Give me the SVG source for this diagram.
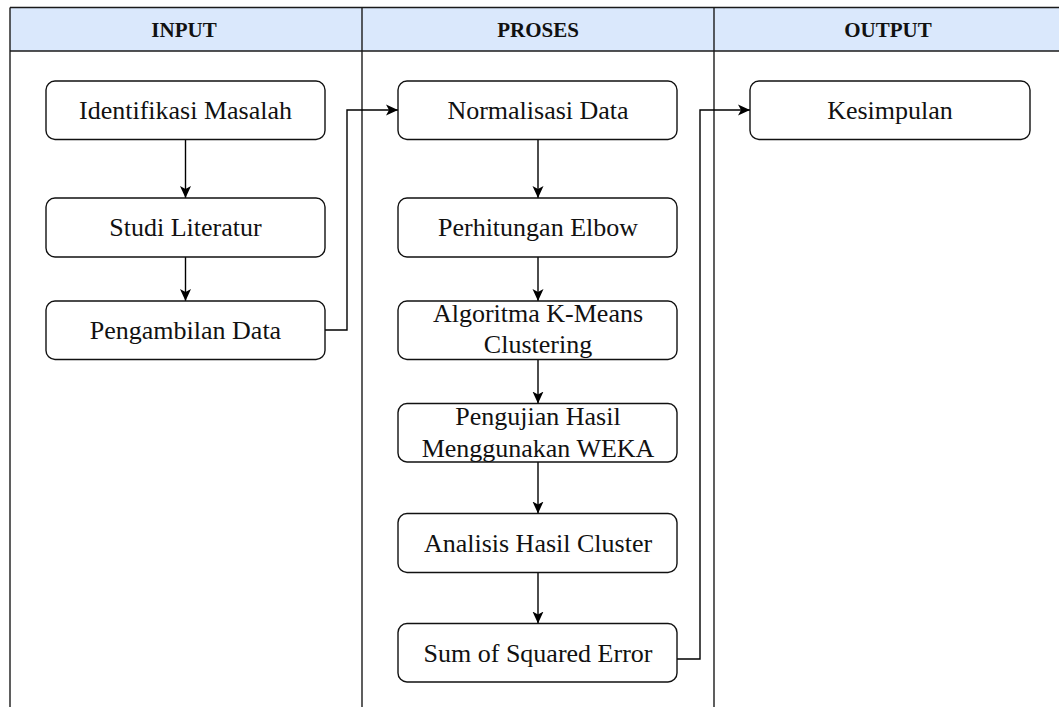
<svg xmlns="http://www.w3.org/2000/svg" width="1059" height="707" viewBox="0 0 1059 707">
  <style>
    .grid { stroke: #1a1a1a; stroke-width: 1.4; fill: none; }
    .hdr { fill: #dae8fc; stroke: none; }
    .htxt { font-family: 'Liberation Serif', serif; font-size: 21px; font-weight: bold; fill: #111; text-anchor: middle; }
    .box { fill: #ffffff; stroke: #111; stroke-width: 1.4; }
    .txt { font-family: 'Liberation Serif', serif; font-size: 26px; fill: #111; text-anchor: middle; }
    .conn { fill: none; stroke: #000; stroke-width: 1.4; }
  </style>
  <defs>
    <marker id="arrow" viewBox="0 0 12 12" refX="12" refY="6" markerWidth="12" markerHeight="12" markerUnits="userSpaceOnUse" orient="auto">
      <path d="M0,0.5 L12,6 L0,11.5 L3,6 Z" fill="#000"/>
    </marker>
  </defs>
  <rect width="1059" height="707" fill="#ffffff"/>

  <g id="table" font-family="Liberation Serif">
    <rect class="hdr" x="10" y="7.5" width="1060" height="43.5"/>
    <line class="grid" x1="10" y1="7.5" x2="1059" y2="7.5"/>
    <line class="grid" x1="10" y1="51" x2="1059" y2="51"/>
    <line class="grid" x1="10" y1="7.5" x2="10" y2="707"/>
    <line class="grid" x1="362" y1="7.5" x2="362" y2="707"/>
    <line class="grid" x1="714" y1="7.5" x2="714" y2="707"/>
    <text class="htxt" font-family="Liberation Serif" x="184" y="37.3">INPUT</text>
    <text class="htxt" font-family="Liberation Serif" x="538" y="37.3">PROSES</text>
    <text class="htxt" font-family="Liberation Serif" x="888" y="37.3">OUTPUT</text>
  </g>

  <g id="connectors">
    <line class="conn" x1="185.5" y1="139.5" x2="185.5" y2="198" marker-end="url(#arrow)"/>
    <line class="conn" x1="185.5" y1="257" x2="185.5" y2="301" marker-end="url(#arrow)"/>
    <polyline class="conn" points="325,330 347,330 347,110 398,110" marker-end="url(#arrow)"/>
    <line class="conn" x1="538" y1="139.5" x2="538" y2="198" marker-end="url(#arrow)"/>
    <line class="conn" x1="538" y1="257" x2="538" y2="301" marker-end="url(#arrow)"/>
    <line class="conn" x1="538" y1="359.5" x2="538" y2="403.5" marker-end="url(#arrow)"/>
    <line class="conn" x1="538" y1="462" x2="538" y2="513.5" marker-end="url(#arrow)"/>
    <line class="conn" x1="538" y1="572.5" x2="538" y2="623.5" marker-end="url(#arrow)"/>
    <polyline class="conn" points="677,659 700,659 700,110 750,110" marker-end="url(#arrow)"/>
  </g>

  <g id="identifikasi">
    <rect class="box" x="46" y="81" width="279" height="58.5" rx="9"/>
    <text class="txt" font-family="Liberation Serif" x="185.5" y="118.5">Identifikasi Masalah</text>
  </g>
  <g id="studi">
    <rect class="box" x="46" y="198" width="279" height="59" rx="9"/>
    <text class="txt" font-family="Liberation Serif" x="185.5" y="236">Studi Literatur</text>
  </g>
  <g id="pengambilan">
    <rect class="box" x="46" y="301" width="279" height="58.5" rx="9"/>
    <text class="txt" font-family="Liberation Serif" x="185.5" y="338.5">Pengambilan Data</text>
  </g>

  <g id="normalisasi">
    <rect class="box" x="398" y="81" width="279" height="58.5" rx="9"/>
    <text class="txt" font-family="Liberation Serif" x="538" y="118.5">Normalisasi Data</text>
  </g>
  <g id="elbow">
    <rect class="box" x="398" y="198" width="279" height="59" rx="9"/>
    <text class="txt" font-family="Liberation Serif" x="538" y="236">Perhitungan Elbow</text>
  </g>
  <g id="kmeans">
    <rect class="box" x="398" y="301" width="279" height="58.5" rx="9"/>
    <text class="txt" font-family="Liberation Serif" x="538" y="321.7">Algoritma K-Means</text>
    <text class="txt" font-family="Liberation Serif" x="538" y="353">Clustering</text>
  </g>
  <g id="weka">
    <rect class="box" x="398" y="403.5" width="279" height="58.5" rx="9"/>
    <text class="txt" font-family="Liberation Serif" x="538" y="425">Pengujian Hasil</text>
    <text class="txt" font-family="Liberation Serif" x="538" y="457.3">Menggunakan WEKA</text>
  </g>
  <g id="analisis">
    <rect class="box" x="398" y="513.5" width="279" height="59" rx="9"/>
    <text class="txt" font-family="Liberation Serif" x="538" y="551.5">Analisis Hasil Cluster</text>
  </g>
  <g id="sse">
    <rect class="box" x="398" y="623.5" width="279" height="58.5" rx="9"/>
    <text class="txt" font-family="Liberation Serif" x="538" y="661.5">Sum of Squared Error</text>
  </g>

  <g id="kesimpulan">
    <rect class="box" x="750" y="81" width="280" height="58.5" rx="9"/>
    <text class="txt" font-family="Liberation Serif" x="890" y="118.5">Kesimpulan</text>
  </g>
</svg>
